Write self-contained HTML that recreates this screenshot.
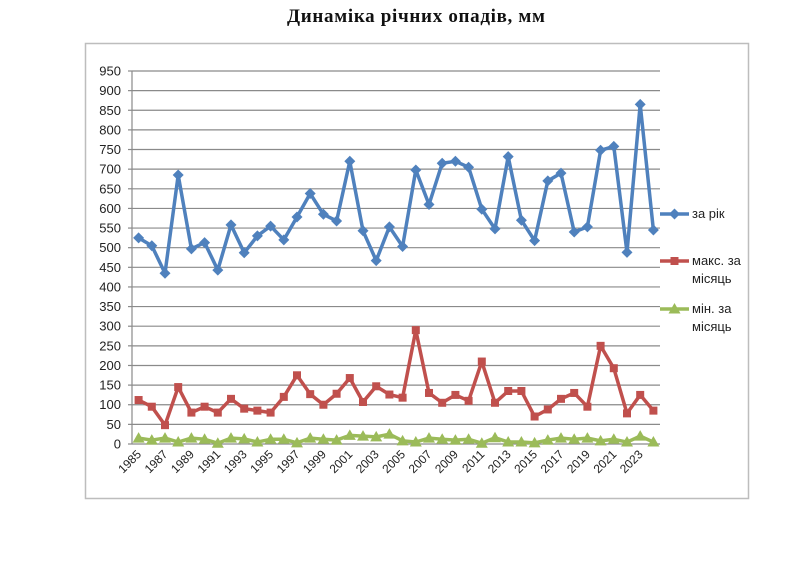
<!DOCTYPE html>
<html><head><meta charset="utf-8"><style>
html,body{margin:0;padding:0;background:#fff;}
svg{display:block;font-family:"Liberation Sans",sans-serif;}
</style></head><body>
<svg id="s" width="800" height="583" viewBox="0 0 800 583" xmlns="http://www.w3.org/2000/svg">
<rect x="0" y="0" width="800" height="583" fill="#fff"/>
<text x="416" y="22" text-anchor="middle" font-family="Liberation Serif, serif" font-weight="bold" font-size="19" textLength="258" fill="#111">Динаміка річних опадів, мм</text>
<rect x="85.5" y="43.5" width="663" height="455" fill="none" stroke="#bdbdbd" stroke-width="1.5"/>
<g id="grid" stroke="#8a8a8a" stroke-width="1.2"></g>
<line x1="132" y1="71" x2="132" y2="444" stroke="#8a8a8a" stroke-width="1.2"/>
<g font-size="13" fill="#222" text-anchor="end">
<text x="121" y="448.5">0</text><text x="121" y="428.9">50</text><text x="121" y="409.2">100</text><text x="121" y="389.6">150</text><text x="121" y="370">200</text><text x="121" y="350.3">250</text><text x="121" y="330.7">300</text><text x="121" y="311.1">350</text><text x="121" y="291.5">400</text><text x="121" y="271.8">450</text><text x="121" y="252.2">500</text><text x="121" y="232.6">550</text><text x="121" y="212.9">600</text><text x="121" y="193.3">650</text><text x="121" y="173.7">700</text><text x="121" y="154">750</text><text x="121" y="134.4">800</text><text x="121" y="114.8">850</text><text x="121" y="95.1">900</text><text x="121" y="75.5">950</text>
</g>
<g font-size="12" fill="#222" text-anchor="end">
<text transform="translate(142,455) rotate(-45)">1985</text>
<text transform="translate(168.4,455) rotate(-45)">1987</text>
<text transform="translate(194.8,455) rotate(-45)">1989</text>
<text transform="translate(221.2,455) rotate(-45)">1991</text>
<text transform="translate(247.6,455) rotate(-45)">1993</text>
<text transform="translate(274,455) rotate(-45)">1995</text>
<text transform="translate(300.4,455) rotate(-45)">1997</text>
<text transform="translate(326.8,455) rotate(-45)">1999</text>
<text transform="translate(353.2,455) rotate(-45)">2001</text>
<text transform="translate(379.6,455) rotate(-45)">2003</text>
<text transform="translate(406,455) rotate(-45)">2005</text>
<text transform="translate(432.4,455) rotate(-45)">2007</text>
<text transform="translate(458.8,455) rotate(-45)">2009</text>
<text transform="translate(485.2,455) rotate(-45)">2011</text>
<text transform="translate(511.6,455) rotate(-45)">2013</text>
<text transform="translate(538,455) rotate(-45)">2015</text>
<text transform="translate(564.4,455) rotate(-45)">2017</text>
<text transform="translate(590.8,455) rotate(-45)">2019</text>
<text transform="translate(617.2,455) rotate(-45)">2021</text>
<text transform="translate(643.6,455) rotate(-45)">2023</text>
</g>
<g id="series"></g>
<g font-size="13" fill="#222">
<text x="692" y="218">за рік</text>
<text x="692" y="265">макс. за</text>
<text x="692" y="283">місяць</text>
<text x="692" y="313">мін. за</text>
<text x="692" y="331">місяць</text>
</g>
<g id="leg"></g>
</svg>
<script>
var NS="http://www.w3.org/2000/svg";
function el(n,a,p){var e=document.createElementNS(NS,n);for(var k in a)e.setAttribute(k,a[k]);p.appendChild(e);return e;}
var g=document.getElementById('grid');
for(var k=1;k<=19;k++){var y=444-k*373/19;el('line',{x1:132,x2:660,y1:y,y2:y},g);}
el('line',{x1:132,x2:660,y1:444,y2:444},g);
for(var k=0;k<=19;k++){var y=444-k*373/19;el('line',{x1:128,x2:132,y1:y,y2:y},g);}
var blue=[525,505,435,685,497,513,443,558,487,530,555,520,578,638,585,568,720,543,467,553,503,698,610,715,720,705,598,548,732,570,518,670,690,540,553,748,758,488,865,545];
var red=[112,95,48,145,80,95,80,115,90,85,80,120,175,127,100,128,168,107,147,126,118,290,130,105,125,110,210,105,135,135,70,88,115,130,95,250,193,78,125,85];
var green=[15,10,15,5,15,12,2,15,13,5,12,12,3,15,12,10,22,20,18,25,8,5,15,12,10,12,2,16,5,5,3,10,15,12,15,8,12,5,20,5];
var s=document.getElementById('series');
function X(i){return 138.6+13.2*i;}function Y(v){return 444-v*373/950;}
function marker(type,x,y,c,p){
 if(type==0)el('polygon',{points:(x)+','+(y-5.5)+' '+(x+5.5)+','+y+' '+x+','+(y+5.5)+' '+(x-5.5)+','+y,fill:c},p);
 else if(type==1)el('rect',{x:x-4,y:y-4,width:8,height:8,fill:c},p);
 else el('polygon',{points:x+','+(y-6)+' '+(x+6)+','+(y+4.5)+' '+(x-6)+','+(y+4.5),fill:c},p);
}
function draw(d,c,type){
 var pts=d.map(function(v,i){return X(i)+','+Y(v);}).join(' ');
 el('polyline',{points:pts,fill:'none',stroke:c,'stroke-width':3.5,'stroke-linejoin':'round'},s);
 d.forEach(function(v,i){marker(type,X(i),Y(v),c,s);});
}
draw(green,'#9bbb59',2);draw(red,'#c0504d',1);draw(blue,'#4f81bd',0);
var L=document.getElementById('leg');
[[214,'#4f81bd',0],[261,'#c0504d',1],[309,'#9bbb59',2]].forEach(function(a){
 el('line',{x1:660,x2:689,y1:a[0],y2:a[0],stroke:a[1],'stroke-width':3.5},L);marker(a[2],674.5,a[0],a[1],L);});
</script>
</body></html>
